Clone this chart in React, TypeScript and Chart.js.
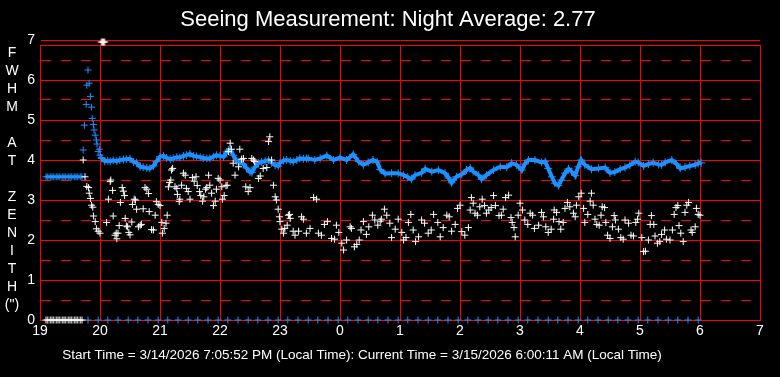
import React, { useEffect, useRef } from "react";
import { Chart, registerables } from "chart.js";

Chart.register(...registerables);

const TITLE = "Seeing Measurement: Night Average: 2.77";
const FOOTER =
  "Start Time = 3/14/2026 7:05:52 PM (Local Time): Current Time = 3/15/2026 6:00:11 AM (Local Time)";
const Y_TITLE_CHARS = ["F", "W", "H", "M", "", "A", "T", "", "Z", "E", "N", "I", "T", "H", "(\")"];

// hours counted from midnight of the start day (24 = 0h next day)
const X_TICKS = [19, 20, 21, 22, 23, 24, 25, 26, 27, 28, 29, 30, 31];
const Y_TICKS = [0, 0.5, 1, 1.5, 2, 2.5, 3, 3.5, 4, 4.5, 5, 5.5, 6, 6.5, 7];

// start-up period (before valid data)
const startupTimes = [19.1, 19.13, 19.17, 19.2, 19.23, 19.27, 19.3, 19.33, 19.37, 19.4, 19.43, 19.47, 19.5, 19.53, 19.57, 19.6, 19.63, 19.67, 19.7];
const startupFwhm = [3.58, 3.58, 3.58, 3.58, 3.58, 3.58, 3.58, 3.58, 3.58, 3.58, 3.58, 3.58, 3.58, 3.58, 3.58, 3.58, 3.58, 3.58, 3.58];
const startupSeeing = [0, 0, 0, 0, 0, 0, 0, 0, 0, 0, 0, 0, 0, 0, 0, 0, 0, 0, 0];

// blue markers on the zero line
const zeroTimes = [19.8, 19.97, 20.13, 20.3, 20.47, 20.63, 20.8, 20.97, 21.13, 21.3, 21.47, 21.63, 21.8, 21.97, 22.13, 22.3, 22.47, 22.63, 22.8, 22.97, 23.13, 23.3, 23.47, 23.63, 23.8, 23.97, 24.13, 24.3, 24.47, 24.63, 24.8, 24.97, 25.13, 25.3, 25.47, 25.63, 25.8, 25.97, 26.13, 26.3, 26.47, 26.63, 26.8, 26.97, 27.13, 27.3, 27.47, 27.63, 27.8, 27.97, 28.13, 28.3, 28.47, 28.63, 28.8, 28.97, 29.13, 29.3, 29.47, 29.63, 29.8, 29.97];
const zeroValues = [0, 0, 0, 0, 0, 0, 0, 0, 0, 0, 0, 0, 0, 0, 0, 0, 0, 0, 0, 0, 0, 0, 0, 0, 0, 0, 0, 0, 0, 0, 0, 0, 0, 0, 0, 0, 0, 0, 0, 0, 0, 0, 0, 0, 0, 0, 0, 0, 0, 0, 0, 0, 0, 0, 0, 0, 0, 0, 0, 0, 0, 0];

// saturated white points at the top
const topTimes = [20.02, 20.04, 20.06, 20.08];
const topValues = [6.95, 6.95, 6.95, 6.95];

// early FWHM (blue) settling points
const earlyTimes = [19.72, 19.74, 19.77, 19.78, 19.8, 19.82, 19.84, 19.86, 19.87, 19.89, 19.9, 19.92, 19.94, 19.95, 19.97, 19.99, 20.0, 20.02];
const earlyFwhm = [4.25, 4.87, 5.39, 5.87, 6.25, 5.92, 5.59, 5.32, 5.04, 4.89, 4.75, 4.62, 4.5, 4.4, 4.21, 4.27, 4.12, 4.06];

// FWHM at zenith (blue curve)
const fwhmTimes = [20.03, 20.08, 20.13, 20.17, 20.22, 20.28, 20.33, 20.39, 20.44, 20.5, 20.56, 20.61, 20.67, 20.72, 20.78, 20.83, 20.89, 20.94, 21.0, 21.06, 21.11, 21.17, 21.22, 21.28, 21.33, 21.39, 21.44, 21.5, 21.56, 21.61, 21.67, 21.72, 21.78, 21.83, 21.89, 21.94, 22.0, 22.06, 22.11, 22.14, 22.17, 22.22, 22.28, 22.33, 22.39, 22.44, 22.5, 22.53, 22.58, 22.64, 22.69, 22.75, 22.81, 22.86, 22.92, 22.97, 23.0, 23.06, 23.11, 23.17, 23.22, 23.28, 23.33, 23.39, 23.44, 23.47, 23.58, 23.67, 23.78, 23.89, 24.0, 24.11, 24.22, 24.31, 24.39, 24.47, 24.55, 24.62, 24.67, 24.75, 24.86, 24.97, 25.06, 25.13, 25.19, 25.25, 25.36, 25.42, 25.53, 25.64, 25.75, 25.81, 25.86, 25.94, 26.03, 26.11, 26.17, 26.22, 26.31, 26.36, 26.44, 26.56, 26.67, 26.78, 26.86, 26.94, 27.03, 27.08, 27.14, 27.25, 27.36, 27.42, 27.47, 27.53, 27.58, 27.64, 27.69, 27.75, 27.81, 27.86, 27.92, 27.97, 28.02, 28.08, 28.19, 28.31, 28.42, 28.5, 28.58, 28.67, 28.75, 28.83, 28.92, 28.97, 29.06, 29.14, 29.22, 29.31, 29.36, 29.42, 29.53, 29.61, 29.67, 29.75, 29.83, 29.92, 29.97, 30.02];
const fwhmValues = [4.04, 3.97, 3.98, 3.97, 3.99, 3.97, 4.0, 4.01, 4.02, 4.03, 3.95, 3.93, 3.83, 3.82, 3.8, 3.79, 3.85, 3.96, 4.08, 4.1, 4.05, 4.02, 4.04, 4.07, 4.06, 4.1, 4.12, 4.15, 4.1, 4.09, 4.07, 4.05, 4.04, 4.04, 4.08, 4.12, 4.1, 4.08, 4.2, 4.25, 4.26, 4.12, 3.97, 3.94, 3.9, 3.8, 3.7, 3.69, 3.82, 3.92, 3.95, 3.97, 4.0, 3.93, 3.87, 3.85, 3.93, 3.99, 4.0, 3.98, 3.96, 4.0, 4.04, 4.03, 4.04, 4.04, 4.0, 4.04, 4.11, 4.0, 4.06, 4.0, 4.14, 3.96, 3.88, 3.94, 4.0, 3.95, 3.76, 3.66, 3.67, 3.67, 3.62, 3.57, 3.52, 3.62, 3.68, 3.78, 3.71, 3.75, 3.67, 3.55, 3.43, 3.58, 3.64, 3.75, 3.8, 3.71, 3.62, 3.52, 3.62, 3.75, 3.83, 3.82, 3.92, 3.88, 3.75, 3.9, 4.0, 4.0, 3.94, 3.96, 3.79, 3.58, 3.42, 3.36, 3.5, 3.67, 3.78, 3.71, 3.61, 3.83, 4.0, 3.88, 3.77, 3.79, 3.81, 3.68, 3.7, 3.77, 3.81, 3.87, 3.96, 3.94, 3.85, 3.9, 3.93, 3.89, 3.88, 3.94, 4.0, 3.9, 3.79, 3.82, 3.85, 3.88, 3.92, 3.93];

// seeing measurements (white)
const seeingTimes = [19.72, 19.75, 19.78, 19.81, 19.82, 19.84, 19.86, 19.88, 19.89, 19.92, 19.94, 19.97, 20.0, 20.11, 20.14, 20.17, 20.18, 20.21, 20.22, 20.25, 20.27, 20.28, 20.3, 20.32, 20.34, 20.37, 20.39, 20.41, 20.42, 20.44, 20.46, 20.48, 20.5, 20.53, 20.54, 20.57, 20.59, 20.61, 20.64, 20.67, 20.69, 20.72, 20.75, 20.78, 20.81, 20.82, 20.86, 20.89, 20.92, 20.94, 20.97, 21.0, 21.03, 21.04, 21.07, 21.1, 21.12, 21.14, 21.16, 21.18, 21.19, 21.21, 21.25, 21.28, 21.29, 21.32, 21.33, 21.36, 21.39, 21.42, 21.44, 21.47, 21.5, 21.54, 21.57, 21.6, 21.62, 21.66, 21.68, 21.71, 21.73, 21.76, 21.78, 21.81, 21.83, 21.86, 21.89, 21.92, 21.94, 21.97, 22.0, 22.03, 22.04, 22.07, 22.1, 22.12, 22.14, 22.17, 22.19, 22.22, 22.25, 22.31, 22.33, 22.36, 22.39, 22.43, 22.47, 22.5, 22.53, 22.56, 22.58, 22.64, 22.67, 22.72, 22.78, 22.81, 22.83, 22.86, 22.89, 22.92, 22.94, 22.97, 22.99, 23.0, 23.03, 23.06, 23.08, 23.12, 23.14, 23.16, 23.17, 23.22, 23.25, 23.31, 23.36, 23.39, 23.44, 23.5, 23.56, 23.61, 23.64, 23.69, 23.74, 23.79, 23.86, 23.91, 23.94, 23.98, 24.03, 24.06, 24.11, 24.17, 24.19, 24.24, 24.28, 24.32, 24.35, 24.39, 24.44, 24.48, 24.54, 24.58, 24.63, 24.67, 24.69, 24.74, 24.78, 24.83, 24.86, 24.92, 24.97, 25.03, 25.06, 25.1, 25.14, 25.18, 25.22, 25.26, 25.31, 25.36, 25.41, 25.47, 25.52, 25.56, 25.63, 25.67, 25.72, 25.78, 25.82, 25.86, 25.92, 25.96, 26.0, 26.03, 26.08, 26.14, 26.17, 26.19, 26.22, 26.25, 26.29, 26.33, 26.37, 26.41, 26.44, 26.48, 26.52, 26.56, 26.59, 26.65, 26.69, 26.72, 26.76, 26.81, 26.85, 26.87, 26.9, 26.92, 26.97, 27.0, 27.04, 27.08, 27.13, 27.17, 27.21, 27.24, 27.31, 27.36, 27.39, 27.43, 27.47, 27.52, 27.56, 27.57, 27.61, 27.65, 27.68, 27.72, 27.75, 27.79, 27.83, 27.89, 27.92, 27.94, 27.98, 28.02, 28.06, 28.08, 28.13, 28.17, 28.19, 28.22, 28.25, 28.28, 28.32, 28.35, 28.37, 28.41, 28.43, 28.46, 28.5, 28.54, 28.57, 28.59, 28.64, 28.68, 28.72, 28.75, 28.81, 28.85, 28.89, 28.93, 28.96, 28.98, 29.03, 29.06, 29.09, 29.14, 29.17, 29.19, 29.23, 29.25, 29.29, 29.33, 29.36, 29.41, 29.44, 29.5, 29.54, 29.57, 29.6, 29.63, 29.65, 29.68, 29.72, 29.75, 29.78, 29.81, 29.85, 29.87, 29.92, 29.94, 29.97, 30.0];
const seeingValues = [4.0, 3.58, 3.34, 3.31, 3.17, 3.04, 2.87, 2.82, 2.6, 2.46, 2.28, 2.22, 2.17, 2.44, 3.02, 3.46, 3.5, 3.24, 2.6, 2.12, 2.17, 2.03, 2.17, 2.36, 2.94, 3.31, 3.22, 3.11, 2.54, 2.35, 2.33, 2.19, 2.13, 2.45, 2.89, 3.02, 3.0, 2.77, 2.33, 2.37, 2.39, 2.78, 3.31, 3.27, 3.16, 2.71, 2.26, 2.25, 2.62, 2.96, 2.89, 2.86, 2.44, 2.17, 2.29, 2.42, 2.62, 3.33, 3.44, 3.5, 3.75, 3.79, 3.33, 3.29, 3.14, 2.96, 3.02, 3.37, 3.67, 3.62, 3.29, 3.21, 3.02, 3.56, 3.47, 3.58, 3.36, 3.21, 3.11, 2.97, 3.08, 3.27, 3.31, 3.62, 3.37, 3.17, 2.86, 2.97, 3.27, 3.54, 3.5, 3.33, 3.02, 3.11, 3.36, 3.37, 4.21, 4.42, 4.27, 3.92, 3.62, 3.83, 4.27, 4.02, 4.04, 3.33, 3.21, 3.31, 4.04, 4.0, 3.96, 3.54, 3.6, 3.79, 3.81, 4.46, 4.58, 4.0, 3.37, 3.08, 3.0, 2.77, 2.58, 2.46, 2.27, 2.17, 2.29, 2.37, 2.62, 2.64, 2.54, 2.22, 2.12, 2.22, 2.58, 2.52, 2.17, 2.29, 3.06, 3.02, 2.17, 2.12, 2.39, 2.46, 2.04, 2.02, 2.37, 2.19, 1.92, 1.75, 2.0, 2.33, 2.29, 1.83, 1.89, 2.0, 2.25, 2.46, 2.14, 2.33, 2.62, 2.5, 2.37, 2.47, 2.52, 2.77, 2.62, 2.42, 2.06, 2.27, 2.52, 2.19, 2.0, 2.06, 2.44, 2.64, 2.25, 1.96, 2.08, 2.5, 2.42, 2.17, 2.25, 2.64, 2.44, 2.08, 2.31, 2.62, 2.58, 2.22, 2.39, 2.79, 2.87, 2.21, 2.12, 2.31, 2.75, 3.06, 2.92, 2.67, 2.62, 2.83, 3.02, 2.86, 2.67, 2.75, 2.81, 3.11, 2.86, 2.61, 2.62, 2.77, 3.06, 3.12, 2.56, 2.44, 2.31, 2.08, 2.62, 2.92, 2.75, 2.5, 2.39, 2.67, 2.62, 2.29, 2.37, 2.69, 2.58, 2.33, 2.19, 2.27, 2.52, 2.75, 2.69, 2.46, 2.27, 2.44, 2.79, 2.94, 2.83, 2.67, 2.58, 2.87, 3.08, 3.17, 2.79, 2.44, 2.64, 2.97, 3.17, 2.87, 2.52, 2.39, 2.37, 2.62, 2.83, 2.81, 2.44, 2.12, 2.04, 2.33, 2.61, 2.5, 2.27, 2.06, 2.02, 2.5, 2.42, 2.12, 2.1, 2.44, 2.52, 2.67, 2.06, 1.71, 1.72, 2.0, 2.39, 2.61, 2.39, 2.1, 1.92, 1.96, 2.14, 2.25, 2.02, 2.0, 2.25, 2.64, 2.81, 2.86, 2.36, 2.17, 1.96, 2.69, 2.87, 2.94, 2.25, 2.19, 2.33, 2.79, 2.64, 2.62];

const WHITE = "#ffffff";
const BLUE = "#1e90ff";
const RED = "#ff0000";
const FONT = '"Liberation Sans", Arial, sans-serif';

const pts = (xs: number[], ys: number[]) => xs.map((x, i) => ({ x, y: ys[i] }));

const crossStyle = (color: string, r = 3.5) => ({
  pointStyle: "cross" as const,
  pointRadius: r,
  pointBorderWidth: 1,
  pointBorderColor: color,
  pointBackgroundColor: color,
  borderColor: color,
  backgroundColor: color,
});

const textPlugin = {
  id: "texts",
  beforeDraw(chart: any) {
    const ctx = chart.ctx;
    ctx.save();
    ctx.fillStyle = "#000000";
    ctx.fillRect(0, 0, chart.width, chart.height);
    ctx.restore();
  },
  beforeDatasetsDraw(chart: any) {
    const { ctx, chartArea } = chart;
    ctx.save();
    ctx.strokeStyle = RED;
    ctx.lineWidth = 1;
    ctx.beginPath();
    const t = Math.round(chartArea.top) + 0.5;
    ctx.moveTo(chartArea.left, t);
    ctx.lineTo(chartArea.right + 1, t);
    ctx.stroke();
    ctx.restore();
  },
  afterDraw(chart: any) {
    const ctx = chart.ctx;
    ctx.save();
    ctx.fillStyle = WHITE;
    ctx.textAlign = "center";
    ctx.textBaseline = "middle";
    ctx.font = `22px ${FONT}`;
    ctx.fillText(TITLE, 388, 20);
    ctx.font = `13.5px ${FONT}`;
    ctx.fillText(FOOTER, 362, 355);
    ctx.font = `14px ${FONT}`;
    Y_TITLE_CHARS.forEach((c, i) => ctx.fillText(c, 12, 53 + i * 18));
    ctx.restore();
  },
};

export default function App() {
  const ref = useRef<HTMLCanvasElement | null>(null);

  useEffect(() => {
    if (!ref.current) return;
    const chart = new Chart(ref.current, {
      type: "scatter",
      data: {
        datasets: [
          { data: pts(startupTimes, startupSeeing), ...crossStyle(WHITE), clip: false },
          { data: pts(topTimes, topValues), ...crossStyle(WHITE), clip: false },
          { data: pts(seeingTimes, seeingValues), ...crossStyle(WHITE), clip: false },
          { data: pts(startupTimes, startupFwhm), ...crossStyle(BLUE), showLine: true, borderWidth: 3 },
          { data: pts(zeroTimes, zeroValues), ...crossStyle(BLUE), clip: false },
          { data: pts(earlyTimes, earlyFwhm), ...crossStyle(BLUE) },
          {
            data: pts(fwhmTimes, fwhmValues),
            ...crossStyle(BLUE, 4),
            showLine: true,
            borderWidth: 4,
          },
        ] as any,
      },
      options: {
        animation: false,
        responsive: false,
        events: [],
        layout: { padding: { left: 0, top: 45, right: 20, bottom: 0 } },
        plugins: { legend: { display: false }, tooltip: { enabled: false }, title: { display: false } },
        scales: {
          x: {
            type: "linear",
            min: 19,
            max: 31,
            afterBuildTicks: (axis: any) => {
              axis.ticks = X_TICKS.map((v) => ({ value: v }));
            },
            afterFit: (axis: any) => {
              axis.height = 57;
            },
            grid: { color: RED, lineWidth: 1, drawTicks: false },
            border: { color: RED, width: 1 },
            ticks: {
              autoSkip: false,
              maxRotation: 0,
              padding: 3,
              color: WHITE,
              font: { family: FONT, size: 14 },
              callback: (v: any) => String(Number(v) % 24),
            },
          },
          y: {
            type: "linear",
            min: 0,
            max: 6.875,
            afterBuildTicks: (axis: any) => {
              axis.ticks = Y_TICKS.map((v) => ({ value: v }));
            },
            afterFit: (axis: any) => {
              axis.width = 40;
            },
            grid: { color: RED, lineWidth: 1, drawTicks: false },
            border: {
              color: RED,
              width: 1,
              dash: (c: any) => (c.tick && c.tick.value % 1 !== 0 ? [10, 10] : []),
            },
            ticks: {
              autoSkip: false,
              padding: 5,
              color: WHITE,
              font: { family: FONT, size: 14 },
              callback: (v: any) => (Number(v) % 1 === 0 ? String(v) : ""),
            },
          },
        },
      } as any,
      plugins: [textPlugin],
    });
    return () => chart.destroy();
  }, []);

  return (
    <div style={{ position: "fixed", left: 0, top: 0, width: 780, height: 377, background: "#000" }}>
      <canvas ref={ref} width={780} height={377} style={{ display: "block", width: 780, height: 377 }} />
    </div>
  );
}
